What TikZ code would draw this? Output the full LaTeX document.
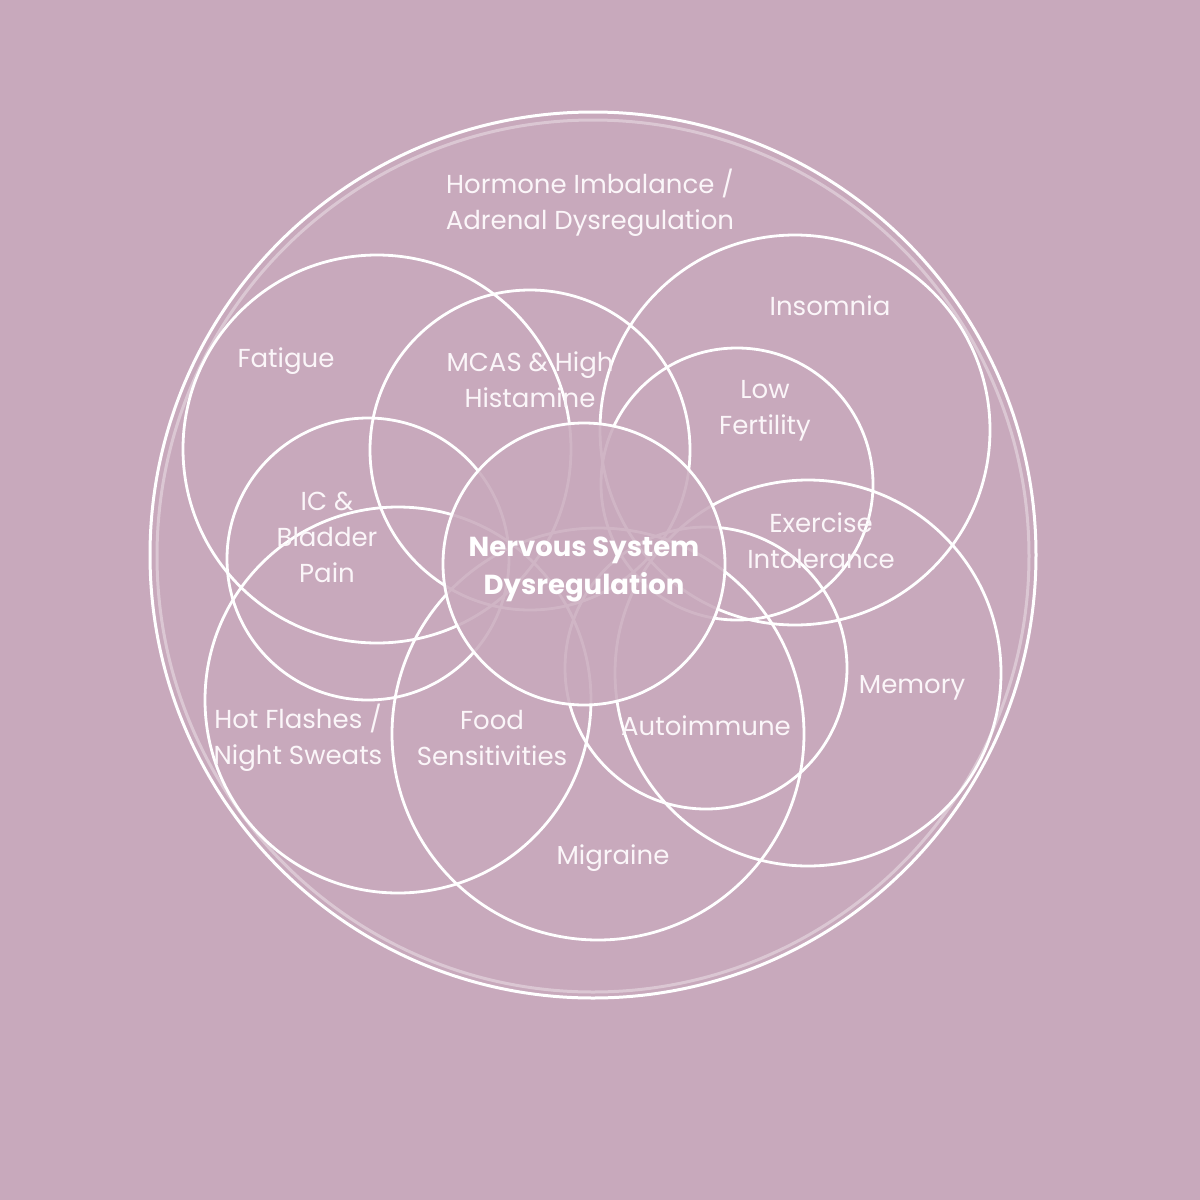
\documentclass[tikz,border=0pt]{standalone}
\usepackage{fontspec}
\setmainfont{Poppins}
\definecolor{mauve}{HTML}{C8A9BC}
\definecolor{labelwhite}{HTML}{FBF6F9}

\begin{document}
\begin{tikzpicture}[x=1pt,y=-1pt,
  ring/.style={draw=white,line width=2.8pt},
  lbl/.style={text=labelwhite,align=center,font=\fontsize{26}{36}\selectfont}]
  \pgfmathsetmacro\cx{584}
  \pgfmathsetmacro\cy{564}

% background
  \fill[mauve] (0,0) rectangle (1200,1200);
  \useasboundingbox (0,0) rectangle (1200,1200);

% outer ring with its faint shadow
  \draw[white,opacity=0.35,line width=3pt] (593,556) circle[radius=436pt];
  \draw[ring,line width=3pt] (593,555) circle[radius=443pt];

% symptom rings
  \draw[ring] (377,449) circle[radius=194pt]; % fatigue
  \draw[ring] (530,450) circle[radius=160pt]; % mcas
  \draw[ring] (795,430) circle[radius=195pt]; % insomnia
  \draw[ring] (737,484) circle[radius=136pt]; % fertility
  \draw[ring] (368,559) circle[radius=141pt]; % bladder
  \draw[ring] (398,700) circle[radius=193pt]; % hot flashes
  \draw[ring] (598,734) circle[radius=206pt]; % migraine
  \draw[ring] (706,668) circle[radius=141pt]; % autoimmune
  \draw[ring] (808,673) circle[radius=193pt]; % memory

% centre ring veils what lies under it
  \fill[mauve,opacity=0.85] (\cx,\cy) circle[radius=141pt];
  \draw[ring] (\cx,\cy) circle[radius=141pt];

% labels
  \node[lbl] (hormone) at (590,203) {Hormone Imbalance /\\Adrenal Dysregulation};
  \node[lbl] (fatigue) at (286,361) {Fatigue};
  \node[lbl] (mcas) at (530,380) {MCAS \& High\\Histamine};
  \node[lbl] (insomnia) at (830,306) {Insomnia};
  \node[lbl] (fertility) at (765,411) {Low\\Fertility};
  \node[lbl] (bladder) at (327,537) {IC \&\\Bladder\\Pain};
  \node[lbl] (exercise) at (821,541) {Exercise\\Intolerance};
  \node[lbl,text=white,font=\fontsize{27.5}{38}\selectfont\bfseries] (nervous) at (\cx,569) {Nervous System\\Dysregulation};
  \node[lbl] (memory) at (912,688) {Memory};
  \node[lbl] (flashes) at (298,738) {Hot Flashes /\\Night Sweats};
  \node[lbl] (food) at (492,738) {Food\\Sensitivities};
  \node[lbl] (autoimmune) at (706,726) {Autoimmune};
  \node[lbl] (migraine) at (613,858) {Migraine};

\end{tikzpicture}
\end{document}
